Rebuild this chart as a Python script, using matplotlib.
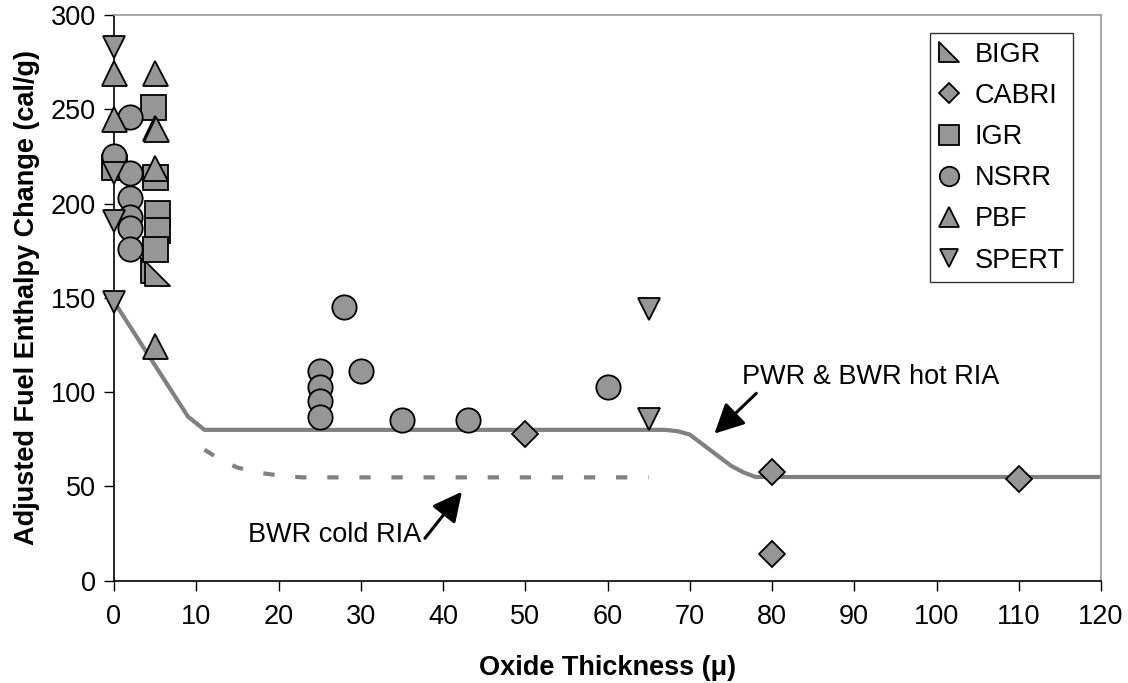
import matplotlib
matplotlib.use("Agg")
import matplotlib.pyplot as plt
from matplotlib.path import Path
import numpy as np

plt.rcParams['font.family'] = ['Liberation Sans', 'DejaVu Sans']

# ---- data ----
bigr_x = [4.8, 5.2]
bigr_y = [165, 163]
cabri_x = [50, 80, 80, 110]
cabri_y = [78, 57.5, 14, 54]
igr_x = [0, 4.8, 5, 5.2, 5.2, 5]
igr_y = [219.5, 251, 214, 195, 186, 176]
nsrr_x = [0, 2, 2, 2, 2, 2, 2, 25, 25, 25, 25, 28, 30, 35, 43, 60]
nsrr_y = [225, 246, 216, 203, 193, 187, 176, 111, 102.5, 95.5, 87, 145, 111, 85, 85, 102.5]
pbf_x = [0, 0, 5, 5, 5.15, 5, 5]
pbf_y = [269, 245, 269, 240, 239.3, 219, 124.5]
spert_x = [0, 0, 0, 0, 65, 65]
spert_y = [283, 216, 191, 148, 144, 85.5]

hot_x = [0, 9, 11, 67, 68.5, 70, 75, 76.5, 78, 120]
hot_y = [148, 87, 80, 80, 79.3, 77.5, 61, 57.5, 55, 55]
cold_x = [11, 13, 15, 18, 21, 23, 65]
cold_y = [69.5, 64, 60, 57, 55.3, 54.8, 54.8]

x_ticks = list(range(0, 121, 10))
y_ticks = list(range(0, 301, 50))

fill = '#969696'
linec = '#808080'
FS = 19.5

fig = plt.figure(figsize=(11.28, 6.83), dpi=100)
ax = fig.add_axes([114/1128, 1 - 580.7/683, (1101 - 114)/1128, (580.7 - 15)/683])

ax.plot(hot_x, hot_y, color=linec, lw=3, solid_joinstyle='round', zorder=2)
ax.plot(cold_x, cold_y, color=linec, lw=3, dashes=(2.7, 5.0), dash_capstyle='butt', zorder=2)

bigr_marker = Path([(-1, 1), (-1, -1), (1, -1), (-1, 1)],
                   [Path.MOVETO, Path.LINETO, Path.LINETO, Path.CLOSEPOLY])

kw = dict(linestyle='none', markerfacecolor=fill, markeredgecolor='black',
          markeredgewidth=1.3, clip_on=False, zorder=3)
ax.plot(bigr_x, bigr_y, marker=bigr_marker, markersize=18, label='BIGR', **kw)
ax.plot(cabri_x, cabri_y, marker='D', markersize=13, label='CABRI', **kw)
ax.plot(igr_x, igr_y, marker='s', markersize=18, label='IGR', **kw)
ax.plot(nsrr_x, nsrr_y, marker='o', markersize=17.5, label='NSRR', **kw)
ax.plot(pbf_x, pbf_y, marker='^', markersize=18, label='PBF', **kw)
ax.plot(spert_x, spert_y, marker='v', markersize=16, label='SPERT', **kw)

ax.set_xlim(0, 120)
ax.set_ylim(0, 300)
ax.set_xticks(x_ticks)
ax.set_yticks(y_ticks)
ax.tick_params(axis='both', direction='out', length=7, width=1, labelsize=FS, colors='black')
ax.tick_params(axis='x', pad=10)
ax.tick_params(axis='y', pad=6)

for s in ['left', 'bottom']:
    ax.spines[s].set_color('black')
    ax.spines[s].set_linewidth(1.2)
for s in ['top', 'right']:
    ax.spines[s].set_color('#9a9a9a')
    ax.spines[s].set_linewidth(1.2)

ax.set_xlabel('Oxide Thickness (\u03bc)', fontsize=FS, fontweight='bold', labelpad=18)
ax.set_ylabel('Adjusted Fuel Enthalpy Change (cal/g)', fontsize=FS, fontweight='bold', labelpad=8)

arrow = dict(arrowstyle='-|>,head_length=0.9,head_width=0.45', lw=2.2, color='black',
             mutation_scale=20, shrinkA=0, shrinkB=0)
ax.annotate('', xy=(73, 78), xytext=(78.1, 99.4), arrowprops=arrow)
ax.annotate('', xy=(42.3, 47.2), xytext=(37.8, 22.5), arrowprops=arrow)
ax.text(76.4, 108, 'PWR & BWR hot RIA', fontsize=FS, ha='left', va='center')
ax.text(16.3, 24, 'BWR cold RIA', fontsize=FS, ha='left', va='center')

leg = ax.legend(loc='upper right', bbox_to_anchor=(1073/1128, (683 - 33)/683),
                bbox_transform=fig.transFigure, fontsize=FS, frameon=True,
                fancybox=False, edgecolor='black', markerscale=0.8,
                handlelength=0.8, handletextpad=0.52, labelspacing=0.56,
                borderpad=0.32, borderaxespad=0)
leg.get_frame().set_linewidth(1.0)

fig.savefig('out.png', dpi=100)
